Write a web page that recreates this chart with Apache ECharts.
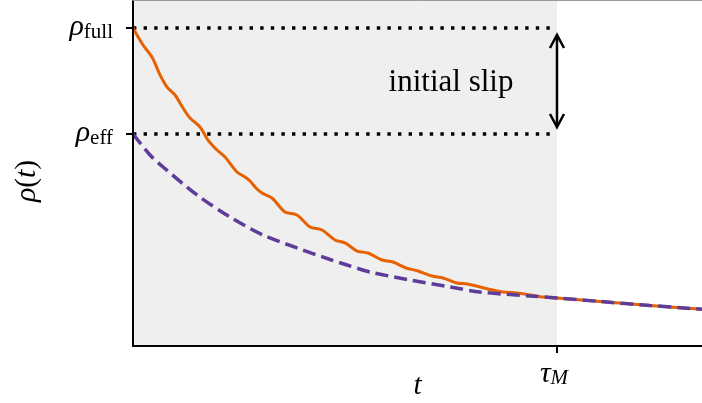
<!DOCTYPE html>
<html><head><meta charset="utf-8">
<script src="https://cdn.jsdelivr.net/npm/echarts@6/dist/echarts.min.js"></script>
<style>html,body{margin:0;padding:0;background:#fff}#c{width:702px;height:403px}</style>
</head><body><div id="c"></div>
<script>
// time values (tau_M = 1) and density rho(t)
const tOrange = [0, 0.0236, 0.0448, 0.0637, 0.0802, 0.0991, 0.1179, 0.1344, 0.1580, 0.1769, 0.1981, 0.2170, 0.2453, 0.2642, 0.2759, 0.2901, 0.3042, 0.3278, 0.3585, 0.3868, 0.4175, 0.4458, 0.4764, 0.5000, 0.5283, 0.5542, 0.5873, 0.6132, 0.6439, 0.6722, 0.7052, 0.7311, 0.7642, 0.7877, 0.8184, 0.8491, 0.8726, 0.9057, 0.9363, 0.9670, 1.0, 1.1014, 1.2193, 1.342];
const rhoOrange = [3.0, 2.840, 2.726, 2.557, 2.443, 2.368, 2.245, 2.151, 2.066, 1.943, 1.849, 1.783, 1.642, 1.594, 1.557, 1.491, 1.443, 1.396, 1.264, 1.236, 1.123, 1.094, 1.000, 0.972, 0.896, 0.877, 0.811, 0.792, 0.736, 0.708, 0.660, 0.642, 0.594, 0.585, 0.557, 0.528, 0.509, 0.500, 0.481, 0.462, 0.453, 0.420, 0.382, 0.347];
const tPurple = [0, 0.0401, 0.0708, 0.1509, 0.2288, 0.3066, 0.3868, 0.4646, 0.5047, 0.5590, 0.6533, 0.7476, 0.8184, 0.9363, 1.0, 1.1014, 1.2193, 1.342];
const rhoPurple = [2.0, 1.802, 1.689, 1.425, 1.217, 1.047, 0.925, 0.816, 0.764, 0.698, 0.623, 0.557, 0.509, 0.472, 0.453, 0.420, 0.382, 0.347];
const rhoLevels = [2, 3];
const rhoLevelNames = ['eff', 'full'];
const tauM = 1;
const xMax = 1.342;
const yMax = 3.264;
const slipLabel = 'initial slip';
const slipLabelPos = [0.75, 2.486];
const slipArrow = [2.934, 2.066];

const SERIF = '"Liberation Serif", "DejaVu Serif", serif';
const chart = echarts.init(document.getElementById('c'), null, {renderer: 'canvas'});

const zip = (a, b) => a.map((v, i) => [v, b[i]]);

const richMath = {
  r: {fontFamily: SERIF, fontStyle: 'italic', fontSize: 30, lineHeight: 29, color: '#000', verticalAlign: 'bottom'},
  s: {fontFamily: SERIF, fontSize: 21, lineHeight: 16, color: '#000', verticalAlign: 'bottom'},
  si: {fontFamily: SERIF, fontStyle: 'italic', fontSize: 21, lineHeight: 16, color: '#000', verticalAlign: 'bottom'},
  n: {fontFamily: SERIF, fontSize: 29, lineHeight: 29, color: '#000', verticalAlign: 'bottom'}
};

const option = {
  animation: false,
  backgroundColor: '#fff',
  grid: {left: 133, right: 0, top: 0, bottom: 57, outerBoundsMode: 'none', containLabel: false},
  xAxis: [{
    type: 'value', min: 0, max: xMax, z: 10,
    name: 't', nameLocation: 'middle', nameGap: 26, nameMoveOverlap: false,
    nameTextStyle: {fontFamily: SERIF, fontStyle: 'italic', fontSize: 29, color: '#000'},
    splitLine: {show: false},
    axisLine: {onZero: false, lineStyle: {color: '#000', width: 2}},
    axisTick: {customValues: [tauM], length: 7, lineStyle: {color: '#000', width: 2}},
    axisLabel: {customValues: [tauM], margin: 14, padding: [0, 6, 0, 0], formatter: () => '{r|τ}{si|M}', rich: richMath}
  }, {
    type: 'value', min: 0, max: xMax, position: 'top', z: 10,
    splitLine: {show: false},
    axisLine: {onZero: false, lineStyle: {color: '#999', width: 1}},
    axisTick: {show: false}, axisLabel: {show: false}
  }],
  yAxis: {
    type: 'value', min: 0, max: yMax, z: 10,
    name: '{r|ρ}{n|(}{r|t}{n|)}', nameLocation: 'middle', nameGap: 91, nameMoveOverlap: false,
    nameTextStyle: {rich: richMath, padding: [0, 16, 0, 0]},
    splitLine: {show: false},
    axisLine: {onZero: false, lineStyle: {color: '#000', width: 2}},
    axisTick: {customValues: rhoLevels, length: 7, lineStyle: {color: '#000', width: 2}},
    axisLabel: {customValues: rhoLevels, margin: 20,
      formatter: v => '{r|ρ}{s|' + rhoLevelNames[rhoLevels.indexOf(v)] + '}', rich: richMath}
  },
  series: [
    {
      type: 'line', data: [], z: 0, silent: true,
      markArea: {silent: true, itemStyle: {color: '#efefef'}, data: [[{xAxis: 0}, {xAxis: tauM}]]}
    },
    ...rhoLevels.map(lv => ({
      type: 'line', data: [[0, lv], [tauM, lv]], symbol: 'none', silent: true, z: 2,
      lineStyle: {color: '#000', width: 3.4, type: [3.4, 7.2], cap: 'butt'}
    })),
    {
      type: 'line', data: zip(tOrange, rhoOrange), symbol: 'none', smooth: 0.3, z: 3,
      lineStyle: {color: '#e66101', width: 3}
    },
    {
      type: 'line', data: zip(tPurple, rhoPurple), symbol: 'none', smooth: 0.3, z: 4,
      lineStyle: {color: '#5e3c99', width: 3.5, type: [13, 6], cap: 'butt'}
    },
    {
      type: 'custom', z: 5, silent: true,
      data: [[tauM, slipArrow[0], slipArrow[1]]],
      renderItem: (params, api) => {
        const top = api.coord([api.value(0), api.value(1)]);
        const bot = api.coord([api.value(0), api.value(2)]);
        const txt = api.coord(slipLabelPos);
        const hw = 7, hh = 13;
        const st = {stroke: '#000', lineWidth: 2.5, fill: null};
        return {type: 'group', children: [
          {type: 'line', shape: {x1: top[0], y1: top[1] + 1, x2: bot[0], y2: bot[1] - 1}, style: st},
          {type: 'polyline', shape: {points: [[top[0] - hw, top[1] + hh], [top[0], top[1]], [top[0] + hw, top[1] + hh]]}, style: st},
          {type: 'polyline', shape: {points: [[bot[0] - hw, bot[1] - hh], [bot[0], bot[1]], [bot[0] + hw, bot[1] - hh]]}, style: st},
          {type: 'text', x: txt[0], y: txt[1], style: {text: slipLabel, font: '31px ' + SERIF, fill: '#000', align: 'center', verticalAlign: 'middle'}}
        ]};
      }
    }
  ]
};
chart.setOption(option);
</script>
</body></html>
